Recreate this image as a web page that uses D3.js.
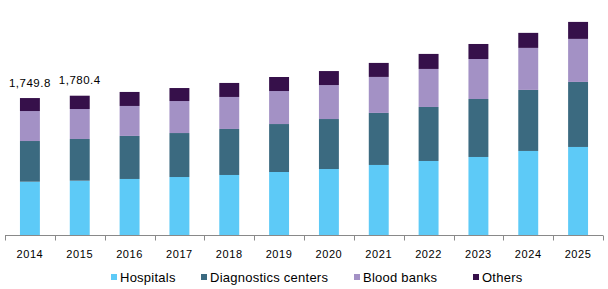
<!DOCTYPE html>
<html>
<head>
<meta charset="utf-8">
<script src="https://cdn.jsdelivr.net/npm/d3@7"></script>
<style>
  html, body { margin: 0; padding: 0; background: #fff; }
  svg { display: block; }
  text { font-family: "Liberation Sans", Arial, sans-serif; fill: #000; }
</style>
</head>
<body>
<svg id="chart" width="608" height="289"></svg>
<script>
const years = ["2014","2015","2016","2017","2018","2019","2020","2021","2022","2023","2024","2025"];
const seriesNames = ["Hospitals","Diagnostics centers","Blood banks","Others"];
const hospitals   = [681, 694, 716, 741, 767, 805, 843, 895, 946, 997, 1074, 1125];
const diagnostics = [520, 533, 550, 562, 588, 613, 639, 665, 690, 741, 780, 831];
const bloodBanks  = [383, 383, 383, 409, 409, 422, 434, 460, 486, 511, 537, 550];
const others      = [166, 170, 179, 166, 179, 179, 179, 179, 192, 192, 192, 217];
const totalLabels = ["1,749.8", "1,780.4"];
const colors = ["#5dcaf7", "#3b6a80", "#a391c5", "#36104a"];

const rows = years.map((y, i) => ({
  year: y,
  "Hospitals": hospitals[i],
  "Diagnostics centers": diagnostics[i],
  "Blood banks": bloodBanks[i],
  "Others": others[i]
}));

const svg = d3.select("#chart");
const x = d3.scaleBand().domain(years).range([5, 603]).paddingInner(0.6).paddingOuter(0.3);
const y = d3.scaleLinear().domain([0, 3003]).range([235, 0]);
const color = d3.scaleOrdinal().domain(seriesNames).range(colors);

const stack = d3.stack().keys(seriesNames)(rows);

svg.append("g").selectAll("g").data(stack).join("g")
  .attr("fill", d => color(d.key))
  .selectAll("rect").data(d => d).join("rect")
  .attr("x", d => x(d.data.year))
  .attr("width", x.bandwidth())
  .attr("y", d => y(d[1]))
  .attr("height", d => y(d[0]) - y(d[1]));

// axis
const xa = d3.scaleBand().domain(years).range([5, 603]);
const axis = svg.append("g").attr("transform", "translate(0,235.5)");
axis.append("line").attr("x1", 5).attr("x2", 603).attr("stroke", "#898989").attr("stroke-width", 1);
const tickPos = years.map(d => xa(d)).concat([603]);
axis.selectAll("line.tick").data(tickPos).join("line").attr("class", "tick")
  .attr("x1", d => Math.round(d) + 0.5).attr("x2", d => Math.round(d) + 0.5)
  .attr("y1", 0).attr("y2", 5).attr("stroke", "#898989");
axis.selectAll("text").data(years).join("text")
  .attr("x", d => xa(d) + xa.bandwidth() / 2)
  .attr("y", 22)
  .attr("text-anchor", "middle")
  .attr("font-size", 11)
  .attr("letter-spacing", 0.6)
  .text(d => d);

// total labels
totalLabels.forEach((t, i) => {
  const total = hospitals[i] + diagnostics[i] + bloodBanks[i] + others[i];
  svg.append("text")
    .attr("x", x(years[i]) + x.bandwidth() / 2)
    .attr("y", y(total) - 11.5)
    .attr("text-anchor", "middle")
    .attr("font-size", 11.5)
    .attr("letter-spacing", 0.5)
    .text(t);
});

// legend
const legendX = [111, 201, 354, 473];
const lg = svg.append("g");
seriesNames.forEach((s, i) => {
  lg.append("rect").attr("x", legendX[i]).attr("y", 274).attr("width", 6).attr("height", 6).attr("fill", color(s));
  lg.append("text").attr("x", legendX[i] + 9).attr("y", 281.5).attr("font-size", 13)
    .attr("letter-spacing", 0.25).text(s);
});
</script>
</body>
</html>
